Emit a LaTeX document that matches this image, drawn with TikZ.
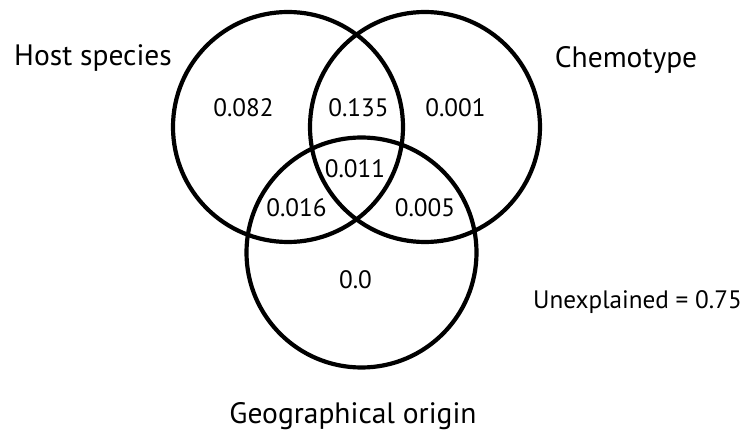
\documentclass[tikz,border=0pt]{standalone}
\usepackage{fontspec}
\setmainfont{PT Sans}
\usepackage{tikz}
\usetikzlibrary{positioning}

\tikzset{
    setcircle/.style={draw, line width=4.2pt, circle, minimum size=230pt, inner sep=0pt},
    setlabel/.style={font=\fontsize{29.5}{31}\selectfont, inner sep=0pt},
    share/.style={font=\fontsize{25.2}{27}\selectfont, inner sep=0pt}
}

\begin{document}
\begin{tikzpicture}[x=1pt,y=1pt]
    \useasboundingbox (0,0) rectangle (747,436);

    % Draw the three sets
    \node[setcircle] (host) at (288,309) {};
    \node[setcircle] (chemo) at (425,309) {};
    \node[setcircle] (geo) at (361.5,183.5) {};

    % Set names
    \node[setlabel] (hostname) at (93,378) {Host species};
    \node[setlabel] (chemoname) at (626,376) {Chemotype};
    \node[setlabel] (geoname) at (353,20) {Geographical origin};
    \node[share] (unexpl) at (637.5,134) {Unexplained = 0.75};

    % Shares of explained variance
    \node[share] (onlyhost) at (243.5,328) {0.082};
    \node[share] (hostchemo) at (358.5,328) {0.135};
    \node[share] (onlychemo) at (455.5,328) {0.001};
    \node[share] (allthree) at (355,267) {0.011};
    \node[share] (hostgeo) at (296.5,228) {0.016};
    \node[share] (chemogeo) at (425,228) {0.005};
    \node[share] (onlygeo) at (355.5,156) {0.0};
\end{tikzpicture}
\end{document}
